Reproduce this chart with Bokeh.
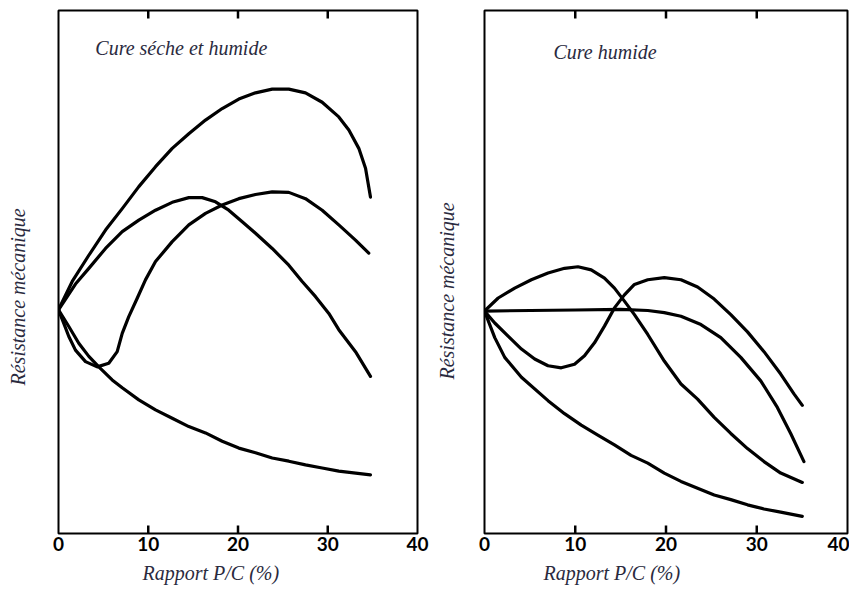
from bokeh.plotting import figure
from bokeh.models import Range1d, FixedTicker, Title
from bokeh.layouts import row
from bokeh.embed import file_html
from bokeh.resources import INLINE

# ---------------- data ----------------
x_ticks = [0, 10, 20, 30, 40]

# Left panel: Cure séche et humide
a_x = [0, 1.53, 3.38, 5.24, 7.10, 8.95, 10.81, 12.67, 14.52, 16.38, 18.24, 20.09, 21.95,
       23.81, 25.66, 27.52, 29.38, 31.23, 32.35, 33.46, 34.21, 34.76]
a_y = [42.7, 48.1, 53.1, 57.9, 62.0, 66.2, 70.0, 73.5, 76.3, 78.9, 81.1, 82.9, 84.1,
       84.8, 84.8, 84.1, 82.3, 79.5, 77.0, 73.5, 69.7, 64.2]

b_x = [0, 1.89, 3.38, 5.24, 7.10, 8.95, 10.81, 12.67, 14.52, 16.01, 17.49, 18.97, 20.47,
       21.95, 23.81, 25.66, 27.15, 28.64, 30.12, 31.23, 33.09, 34.76]
b_y = [42.7, 47.6, 50.6, 54.4, 57.6, 59.8, 61.7, 63.2, 64.1, 64.1, 63.3, 61.7, 59.5,
       57.3, 54.4, 51.2, 48.1, 45.2, 42.0, 38.9, 34.7, 30.0]

c_x = [0, 0.59, 1.15, 1.89, 3.01, 4.31, 5.60, 6.54, 7.10, 7.83, 8.77, 9.69, 10.81, 12.67,
       14.52, 16.38, 18.24, 20.09, 21.95, 23.81, 25.66, 27.52, 29.38, 31.23, 33.09, 34.57]
c_y = [42.7, 40.1, 37.6, 35.0, 32.8, 31.8, 32.5, 34.7, 38.2, 41.4, 44.9, 48.4, 51.9, 55.7,
       58.9, 61.1, 62.7, 63.9, 64.7, 65.2, 65.1, 63.9, 61.7, 58.9, 56.0, 53.5]

d_x = [0, 1.15, 2.26, 3.38, 4.49, 5.98, 7.10, 8.95, 10.81, 12.67, 14.52, 16.38, 18.24,
       20.09, 21.95, 23.81, 25.66, 27.52, 29.38, 31.23, 34.76]
d_y = [42.7, 39.5, 36.3, 33.8, 31.8, 29.3, 27.8, 25.5, 23.6, 22.0, 20.4, 19.2, 17.6,
       16.3, 15.4, 14.4, 13.8, 13.1, 12.5, 11.9, 11.2]

# Right panel: Cure humide
e_x = [0, 1.51, 3.33, 5.16, 7.00, 8.82, 10.30, 11.76, 13.22, 14.32, 15.42, 16.52, 17.99,
       19.81, 21.65, 23.48, 25.31, 27.14, 28.98, 30.80, 32.64, 35.02]
e_y = [42.7, 45.2, 47.1, 48.7, 50.0, 50.9, 51.2, 50.6, 49.0, 47.1, 44.6, 42.0, 38.2,
       33.1, 28.7, 25.8, 22.3, 19.2, 16.3, 13.8, 11.6, 9.8]

f_x = [0, 10.0, 15.0, 17.99, 19.81, 21.65, 23.85, 26.04, 28.24, 30.44, 32.27, 33.74, 35.20]
f_y = [42.7, 42.9, 43.0, 42.8, 42.4, 41.7, 40.1, 37.6, 33.8, 29.3, 24.2, 19.2, 13.8]

g_x = [0, 1.13, 2.60, 4.07, 5.53, 7.00, 8.46, 9.92, 11.02, 12.12, 13.22, 14.32, 15.42,
       16.52, 17.99, 19.81, 21.65, 23.48, 25.31, 27.14, 28.98, 30.80, 32.64, 34.10, 35.02]
g_y = [42.7, 40.4, 37.9, 35.4, 33.5, 32.2, 31.8, 32.5, 34.1, 36.6, 39.8, 43.3, 45.8,
       47.8, 48.7, 49.1, 48.7, 47.3, 45.0, 42.0, 38.7, 34.9, 30.6, 26.8, 24.6]

h_x = [0, 1.13, 2.23, 4.07, 7.00, 8.82, 10.66, 12.49, 14.32, 16.15, 17.99, 19.81, 21.65,
       23.48, 25.31, 27.14, 28.98, 30.80, 32.64, 35.02]
h_y = [42.7, 37.6, 33.8, 30.0, 25.5, 23.0, 20.8, 18.9, 17.0, 15.0, 13.5, 11.6, 10.0,
       8.7, 7.4, 6.5, 5.5, 4.7, 4.1, 3.3]

left_title = "Cure séche et humide"
right_title = "Cure humide"
x_label = "Rapport P/C (%)"
y_label = "Résistance mécanique"

TEXT_COLOR = "#2a2a3e"
SERIF = "Liberation Serif"
PX_PER_UNIT = 5.25


def make_panel(width, border_left, frame_w, border_top, frame_h, series, title,
               title_x, title_y, xlab_offset, ylab_offset, ylab_gap):
    height = 590
    y_top = frame_h / PX_PER_UNIT
    p = figure(width=width, height=height, output_backend="svg", toolbar_location=None,
               x_range=Range1d(0, 40), y_range=Range1d(0, y_top),
               min_border_left=border_left, min_border_right=width - border_left - frame_w,
               min_border_top=border_top, min_border_bottom=height - border_top - frame_h)
    p.grid.visible = False
    p.outline_line_color = "black"
    p.outline_line_width = 2
    p.background_fill_color = "white"
    p.border_fill_color = "white"

    xa = p.xaxis[0]
    xa.ticker = FixedTicker(ticks=x_ticks)
    xa.major_tick_in = 0
    xa.major_tick_out = 0
    xa.minor_tick_line_color = None
    xa.axis_line_color = None
    xa.major_label_text_font = "Lato"
    xa.major_label_text_font_style = "bold"
    xa.major_label_text_font_size = "19px"
    xa.major_label_text_color = "black"
    xa.major_label_standoff = 3

    # left axis: one invisible tick whose outward length keeps a gap before the y title
    ya = p.yaxis[0]
    ya.ticker = FixedTicker(ticks=[y_top / 2])
    ya.major_label_overrides = {y_top / 2: ""}
    ya.major_tick_in = 0
    ya.major_tick_out = ylab_gap
    ya.major_tick_line_color = None
    ya.minor_tick_line_color = None
    ya.axis_line_color = None
    ya.major_label_standoff = 0

    # inward tick marks on bottom and top edges, at the inner tick positions
    inner = x_ticks[1:-1]
    tick_len = 8 / PX_PER_UNIT
    tick_xs = [[t, t] for t in inner] + [[t, t] for t in inner]
    tick_ys = [[0, tick_len] for t in inner] + [[y_top, y_top - tick_len] for t in inner]
    p.multi_line(xs=tick_xs, ys=tick_ys, line_color="#000000", line_width=2.5)

    for xs, ys in series:
        p.line(xs, ys, line_color="black", line_width=3.2, line_cap="round", line_join="round")

    p.text(x=[title_x], y=[title_y], text=[title], text_font={"value": SERIF},
           text_font_style="italic", text_font_size="20px",
           text_color=TEXT_COLOR, text_baseline="middle")

    p.add_layout(Title(text=x_label, align="left", offset=xlab_offset,
                       text_font=SERIF, text_font_style="italic", text_font_size="20px",
                       text_color=TEXT_COLOR, standoff=13), "below")
    p.add_layout(Title(text=y_label, align="left", offset=ylab_offset,
                       text_font=SERIF, text_font_style="italic", text_font_size="20px",
                       text_color=TEXT_COLOR, standoff=4), "left")
    return p


p1 = make_panel(431, 58, 359, 10, 524, [(a_x, a_y), (b_x, b_y), (c_x, c_y), (d_x, d_y)],
                left_title, 4.1, 92.6, 84, 148, 28)
p2 = make_panel(418, 52, 364, 7, 527, [(e_x, e_y), (f_x, f_y), (g_x, g_y), (h_x, h_y)],
                right_title, 7.6, 92.4, 59, 154, 25)

layout = row(p1, p2)
open("out.html", "w").write(file_html(layout, INLINE))
